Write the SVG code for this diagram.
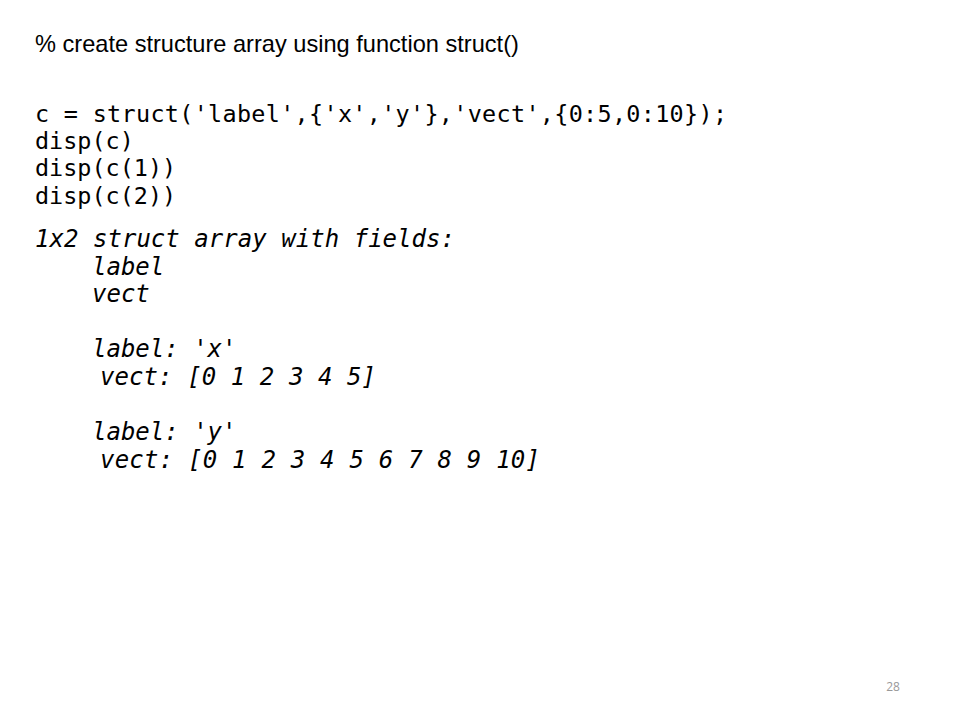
<svg xmlns="http://www.w3.org/2000/svg" width="960" height="720" viewBox="0 0 960 720">
<style>
.title{font-family:"Liberation Sans",Arial,sans-serif;font-size:23.6px;fill:#000}
.code{font-family:"DejaVu Sans Mono","Liberation Mono",monospace;font-size:23.45px;fill:#000;white-space:pre}
.out{font-family:"DejaVu Sans Mono","Liberation Mono",monospace;font-size:24px;font-style:italic;fill:#000;white-space:pre}
.pg{font-family:"Open Sans","Liberation Sans",sans-serif;font-size:12px;fill:#999}
</style>
<rect width="960" height="720" fill="#fff"/>
<g id="title"><text class="title" x="35" y="52">% create structure array using function struct()</text></g>
<g id="code">
<text class="code" x="35" y="122" textLength="692" lengthAdjust="spacing">c = struct('label',{'x','y'},'vect',{0:5,0:10});</text>
<text class="code" x="35" y="149">disp(c)</text>
<text class="code" x="35" y="176">disp(c(1))</text>
<text class="code" x="35" y="203.5">disp(c(2))</text>
</g>
<g id="output">
<text class="out" x="35" y="247" textLength="420" lengthAdjust="spacing">1x2 struct array with fields:</text>
<text class="out" x="92" y="274.5">label</text>
<text class="out" x="92" y="302">vect</text>
<text class="out" x="92" y="357">label: 'x'</text>
<text class="out" x="100" y="384.5" textLength="276" lengthAdjust="spacing">vect: [0 1 2 3 4 5]</text>
<text class="out" x="92" y="440">label: 'y'</text>
<text class="out" x="100" y="468" textLength="440" lengthAdjust="spacing">vect: [0 1 2 3 4 5 6 7 8 9 10]</text>
</g>
<g id="page"><text class="pg" x="893" y="691" text-anchor="middle">28</text></g>
</svg>
